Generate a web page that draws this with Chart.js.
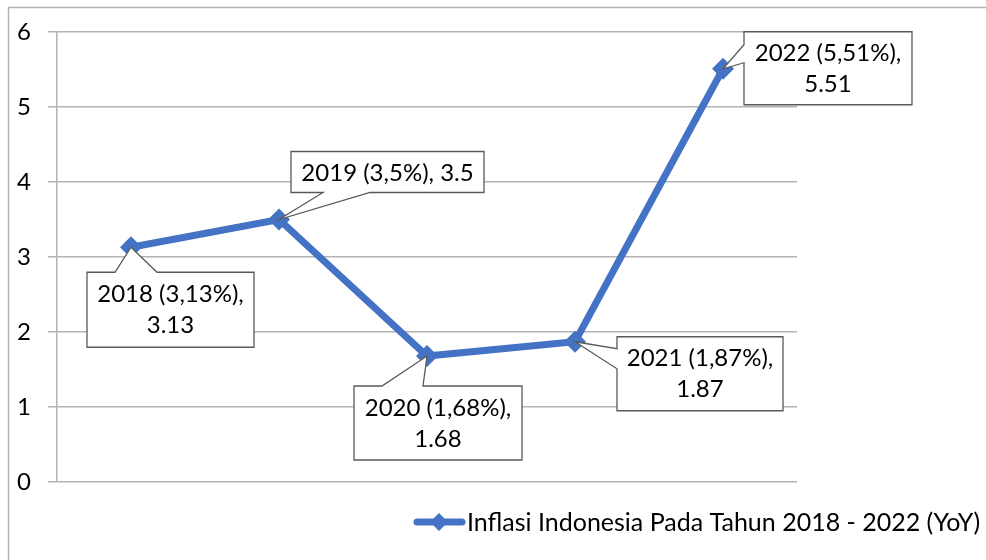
<!DOCTYPE html>
<html>
<head>
<meta charset="utf-8">
<script src="https://cdn.jsdelivr.net/npm/chart.js@4.4.0/dist/chart.umd.min.js"></script>
<style>
  html, body { margin: 0; padding: 0; background: #fff; }
  #wrap { width: 986px; height: 560px; position: relative; }
</style>
</head>
<body>
<div id="wrap"><canvas id="chart"></canvas></div>
<script>
// data
const years = ['2018', '2019', '2020', '2021', '2022'];
const inflation = [3.13, 3.5, 1.68, 1.87, 5.51];
const pctText = ['3,13%', '3,5%', '1,68%', '1,87%', '5,51%'];
const yTicks = [0, 1, 2, 3, 4, 5, 6];
const seriesName = 'Inflasi Indonesia Pada Tahun 2018 - 2022 (YoY)';

const BLUE = '#4472C4';
const GRID = '#b3b3b3';
const FONT = 'Lato, "Open Sans", sans-serif';

// callout boxes, placed relative to their point (px)
const calloutBoxes = [
  { dx: -44, dy: 25, w: 167, h: 75, side: 'top', a: 28, b: 70, twoLines: true },
  { dx: 12, dy: -68, w: 193, h: 41, side: 'bottom', a: 32, b: 79, twoLines: false },
  { dx: -73, dy: 30, w: 168, h: 74, side: 'top', a: 28, b: 69, twoLines: true },
  { dx: 42, dy: -5, w: 166, h: 74, side: 'left', a: 12, b: 32, twoLines: true },
  { dx: 21, dy: -37, w: 168, h: 73, side: 'left', a: 13, b: 31, twoLines: true },
];

const framePlugin = {
  id: 'frame',
  beforeDraw(chart) {
    const ctx = chart.ctx;
    ctx.save();
    ctx.fillStyle = '#fff';
    ctx.fillRect(0, 0, chart.width, chart.height);
    ctx.strokeStyle = GRID;
    ctx.lineWidth = 1.5;
    ctx.beginPath();
    ctx.moveTo(8.5, chart.height);
    ctx.lineTo(8.5, 7.5);
    ctx.lineTo(chart.width, 7.5);
    ctx.stroke();
    ctx.restore();
  }
};

const calloutPlugin = {
  id: 'callouts',
  afterDatasetsDraw(chart) {
    const ctx = chart.ctx;
    const meta = chart.getDatasetMeta(0);
    ctx.save();
    ctx.font = '24px ' + FONT;
    ctx.textAlign = 'center';
    ctx.textBaseline = 'middle';
    meta.data.forEach((pt, i) => {
      const c = calloutBoxes[i];
      const x0 = pt.x + c.dx, y0 = pt.y + c.dy;
      const x1 = x0 + c.w, y1 = y0 + c.h;
      ctx.beginPath();
      ctx.moveTo(x0, y0);
      if (c.side === 'top') {
        ctx.lineTo(x0 + c.a, y0);
        ctx.lineTo(pt.x, pt.y);
        ctx.lineTo(x0 + c.b, y0);
      }
      ctx.lineTo(x1, y0);
      ctx.lineTo(x1, y1);
      if (c.side === 'bottom') {
        ctx.lineTo(x0 + c.b, y1);
        ctx.lineTo(pt.x, pt.y);
        ctx.lineTo(x0 + c.a, y1);
      }
      ctx.lineTo(x0, y1);
      if (c.side === 'left') {
        ctx.lineTo(x0, y0 + c.b);
        ctx.lineTo(pt.x, pt.y);
        ctx.lineTo(x0, y0 + c.a);
      }
      ctx.closePath();
      ctx.fillStyle = '#fff';
      ctx.fill();
      ctx.strokeStyle = '#595959';
      ctx.lineWidth = 1.3;
      ctx.stroke();

      ctx.fillStyle = '#000';
      const v = String(inflation[i]);
      const cx = (x0 + x1) / 2, cy = (y0 + y1) / 2;
      if (c.twoLines) {
        ctx.fillText(years[i] + ' (' + pctText[i] + '),', cx, cy - 15);
        ctx.fillText(v, cx, cy + 16);
      } else {
        ctx.fillText(years[i] + ' (' + pctText[i] + '), ' + v, cx, cy + 1);
      }
    });
    ctx.restore();
  }
};

const legendPlugin = {
  id: 'customLegend',
  afterDraw(chart) {
    const ctx = chart.ctx;
    const y = 522;
    ctx.save();
    ctx.strokeStyle = BLUE;
    ctx.lineWidth = 7;
    ctx.lineCap = 'round';
    ctx.beginPath();
    ctx.moveTo(417, y);
    ctx.lineTo(462, y);
    ctx.stroke();
    ctx.fillStyle = BLUE;
    ctx.beginPath();
    ctx.moveTo(439, y - 9);
    ctx.lineTo(448, y);
    ctx.lineTo(439, y + 9);
    ctx.lineTo(430, y);
    ctx.closePath();
    ctx.fill();
    ctx.fillStyle = '#000';
    ctx.font = '25px ' + FONT;
    ctx.textAlign = 'left';
    ctx.textBaseline = 'middle';
    ctx.fillText(chart.data.datasets[0].label, 467, y + 1);
    ctx.restore();
  }
};

new Chart(document.getElementById('chart'), {
  type: 'line',
  data: {
    labels: years,
    datasets: [{
      label: seriesName,
      data: inflation,
      borderColor: BLUE,
      backgroundColor: BLUE,
      borderWidth: 7,
      tension: 0,
      pointStyle: 'rectRot',
      pointRadius: 11,
      pointBorderWidth: 0,
      pointBackgroundColor: BLUE,
      clip: false,
    }]
  },
  options: {
    responsive: true,
    maintainAspectRatio: false,
    animation: false,
    devicePixelRatio: 1,
    layout: { padding: { left: 0, top: 32, right: 189, bottom: 78 } },
    plugins: {
      legend: { display: false },
      tooltip: { enabled: false },
    },
    scales: {
      x: {
        type: 'category',
        offset: true,
        grid: { display: false },
        border: { display: false },
        ticks: { display: false },
        afterFit: (scale) => { scale.height = 0; },
      },
      y: {
        min: 0,
        max: 6,
        afterBuildTicks: (scale) => { scale.ticks = yTicks.map(v => ({ value: v })); },
        grid: { color: GRID, lineWidth: 1.5, tickLength: 9, tickColor: GRID },
        border: { display: true, color: GRID, width: 1.5 },
        ticks: {
          color: '#000',
          padding: 17,
          font: { family: FONT, size: 24 },
        },
        afterFit: (scale) => { scale.width = 57; },
      }
    }
  },
  plugins: [framePlugin, calloutPlugin, legendPlugin]
});
</script>
</body>
</html>
